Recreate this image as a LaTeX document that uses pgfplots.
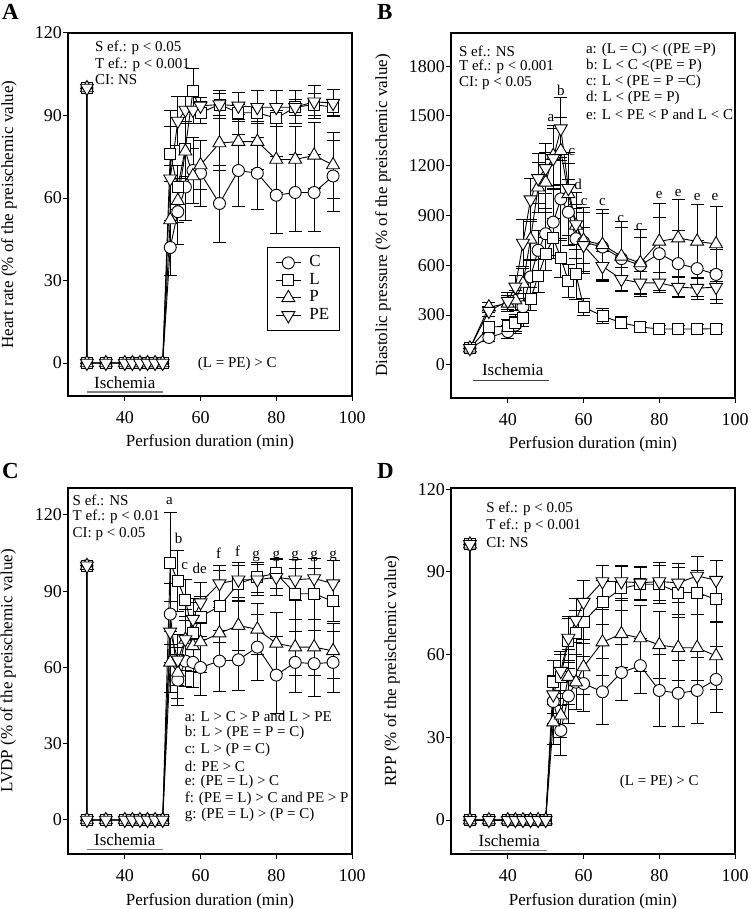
\documentclass[border=0pt]{standalone}
\usepackage{fontspec}
\setmainfont{Liberation Serif}
\usepackage{pgfplots}
\pgfplotsset{compat=1.18}
\newcommand{\fA}{\fontsize{15}{16}\selectfont}
\newcommand{\fL}{\fontsize{17}{19}\selectfont}
\newcommand{\fT}{\fontsize{18}{20}\selectfont}
\pgfplotsset{
 panel/.style={
  scale only axis, width=284pt,
  xmin=25, xmax=100, xtick={40,60,80,100},
  tick align=outside, xtick pos=left, ytick pos=left,
  major tick length=5pt,
  every tick/.style={black, line width=1pt},
  axis line style={line width=1.2pt},
  tick label style={font=\fT},
  /pgf/number format/assume math mode=true,
  /pgf/number format/1000 sep={},
  scaled y ticks=false,
  label style={font=\fL},
  xlabel={Perfusion duration (min)},
  clip=false,
  xlabel style={at={(axis description cs:0.5,-0.128)}, anchor=center},
  yticklabel style={inner xsep=1pt},
  xticklabel style={yshift=-7pt},
 },
 base/.style={black, line width=0.9pt,
  error bars/y dir=both, error bars/y explicit,
  error bars/error bar style={line width=0.9pt, black, solid},
  error bars/error mark options={rotate=90, mark size=6.5pt, line width=0.9pt, black}},
 sC/.style={base, mark=*, mark size=6pt, mark options={fill=white, draw=black, line width=0.9pt}},
 sL/.style={base, mark=square*, mark size=5.5pt, mark options={fill=white, draw=black, line width=0.9pt}},
 sP/.style={base, mark=triangle*, mark size=7.5pt, mark options={fill=white, draw=black, line width=0.9pt}},
 sPE/.style={base, mark=triangle*, mark size=7.5pt, mark options={fill=white, draw=black, line width=0.9pt, rotate=180}},
}
\begin{document}
\begin{tikzpicture}[x=1pt,y=1pt]
\useasboundingbox (0,0) rectangle (750,-909);
\node[anchor=base west, inner sep=0, font=\bfseries\fontsize{23}{25}\selectfont] at (2,-20) {A};
\node[anchor=base west, inner sep=0, font=\bfseries\fontsize{23}{25}\selectfont] at (377,-20) {B};
\node[anchor=base west, inner sep=0, font=\bfseries\fontsize{23}{25}\selectfont] at (2,-478) {C};
\node[anchor=base west, inner sep=0, font=\bfseries\fontsize{23}{25}\selectfont] at (377,-478) {D};

% ---------------- A ----------------
\begin{axis}[panel, at={(68pt,-396pt)}, anchor=south west, height=363pt,
  ymin=-12, ymax=120, ytick={0,30,60,90,120},
  ylabel={Heart rate (\% of the preischemic value)},
  ylabel style={at={(axis description cs:-0.208,0.5)}, anchor=center},
  legend style={at={(axis description cs:0.7007,0.4105)}, anchor=north west, draw=black, line width=0.8pt, fill=white, inner xsep=8pt, inner ysep=8pt, row sep=2.5pt, column sep=6pt, font=\fL, cells={anchor=west}, nodes={inner ysep=0.5pt, text height=11pt, text depth=3pt}},
  legend image code/.code={\draw[mark repeat=2,mark phase=2,#1] plot coordinates {(0pt,0pt) (12.5pt,0pt) (25pt,0pt)};}]
\addplot[sC] coordinates {(30,100) +- (0,0) (30,0) +- (0,0) (35,0) +- (0,0) (40,0) +- (0,0) (42,0) +- (0,0) (44,0) +- (0,0) (46,0) +- (0,0) (48,0) +- (0,0) (50,0) +- (0,0) (52,42) +- (0,10) (54,55) +- (0,12) (56,64) +- (0,12) (58,70) +- (0,12) (60,69) +- (0,12) (65,58) +- (0,14) (70,70) +- (0,13) (75,69) +- (0,13) (80,61) +- (0,14) (85,62) +- (0,14) (90,62) +- (0,14) (95,68) +- (0,13)};
\addlegendentry{C}
\addplot[sL] coordinates {(30,100) +- (0,0) (30,0) +- (0,0) (35,0) +- (0,0) (40,0) +- (0,0) (42,0) +- (0,0) (44,0) +- (0,0) (46,0) +- (0,0) (48,0) +- (0,0) (50,0) +- (0,0) (52,76) +- (0,10) (54,64) +- (0,8) (56,78) +- (0,10) (58,99) +- (0,8) (60,91) +- (0,4) (65,94) +- (0,4) (70,91) +- (0,3) (75,91) +- (0,3) (80,89) +- (0,3) (85,93) +- (0,3) (90,94) +- (0,4) (95,93) +- (0,3)};
\addlegendentry{L}
\addplot[sP] coordinates {(30,100) +- (0,0) (30,0) +- (0,0) (35,0) +- (0,0) (40,0) +- (0,0) (42,0) +- (0,0) (44,0) +- (0,0) (46,0) +- (0,0) (48,0) +- (0,0) (50,0) +- (0,0) (52,52) +- (0,20) (54,59) +- (0,8) (56,77) +- (0,10) (58,68) +- (0,10) (60,72) +- (0,9) (65,80) +- (0,10) (70,80.5) +- (0,10) (75,80.5) +- (0,10) (80,74) +- (0,12) (85,74) +- (0,12) (90,75.5) +- (0,12) (95,72) +- (0,12)};
\addlegendentry{P}
\addplot[sPE] coordinates {(30,100) +- (0,0) (30,0) +- (0,0) (35,0) +- (0,0) (40,0) +- (0,0) (42,0) +- (0,0) (44,0) +- (0,0) (46,0) +- (0,0) (48,0) +- (0,0) (50,0) +- (0,0) (52,67) +- (0,25) (54,88) +- (0,9) (56,92) +- (0,5) (58,92) +- (0,5) (60,93.5) +- (0,3) (65,94) +- (0,5) (70,93.5) +- (0,5) (75,93) +- (0,6) (80,93) +- (0,6) (85,93) +- (0,6) (90,95) +- (0,6) (95,94.5) +- (0,5)};
\addlegendentry{PE}
\node[anchor=west, inner sep=0, font=\fA] at (axis cs:32.1,114.6) {S ef.: p < 0.05};
\node[anchor=west, inner sep=0, font=\fA] at (axis cs:32.1,108.6) {T ef.: p < 0.001};
\node[anchor=west, inner sep=0, font=\fA] at (axis cs:32.1,102.9) {CI: NS};
\node[inner sep=0, font=\fA] at (axis cs:69.7,-0.5) {(L = PE) > C};
\draw[gray, line width=1.3pt] (axis cs:30,-10.5) -- (axis cs:50,-10.5);
\node[inner sep=0, font=\fL] at (axis cs:40,-7) {Ischemia};
\end{axis}

% ---------------- B ----------------
\begin{axis}[panel, at={(451pt,-398pt)}, anchor=south west, height=365pt,
  ymin=-200, ymax=2000, ytick={0,300,600,900,1200,1500,1800},
  ylabel={Diastolic pressure (\% of the preischemic value)},
  ylabel style={at={(axis description cs:-0.24,0.5)}, anchor=center}]
\addplot[sC] coordinates {(30,100) +- (0,0) (35,165) +- (0,25) (40,200) +- (0,40) (42,240) +- (0,50) (44,350) +- (0,80) (46,530) +- (0,100) (48,690) +- (0,120) (50,790) +- (0,150) (52,860) +- (0,200) (54,1000) +- (0,250) (56,920) +- (0,200) (58,760) +- (0,180) (60,740) +- (0,180) (65,710) +- (0,200) (70,640) +- (0,190) (75,600) +- (0,170) (80,670) +- (0,220) (85,610) +- (0,200) (90,580) +- (0,170) (95,545) +- (0,150)};
\addplot[sL] coordinates {(30,100) +- (0,0) (35,228) +- (0,30) (40,232) +- (0,40) (42,254) +- (0,50) (44,284) +- (0,50) (46,396) +- (0,70) (48,534) +- (0,100) (50,666) +- (0,100) (52,764) +- (0,120) (54,644) +- (0,120) (56,504) +- (0,100) (58,546) +- (0,150) (60,348) +- (0,50) (65,294) +- (0,45) (70,254) +- (0,35) (75,228) +- (0,30) (80,216) +- (0,20) (85,216) +- (0,20) (90,216) +- (0,25) (95,218) +- (0,25)};
\addplot[sP] coordinates {(30,100) +- (0,0) (35,348) +- (0,30) (40,370) +- (0,50) (42,390) +- (0,60) (44,490) +- (0,90) (46,756) +- (0,120) (48,1070) +- (0,150) (50,1100) +- (0,180) (52,1260) +- (0,180) (54,1290) +- (0,200) (56,1030) +- (0,250) (58,840) +- (0,200) (60,750) +- (0,200) (65,724) +- (0,210) (70,654) +- (0,210) (75,614) +- (0,200) (80,744) +- (0,230) (85,764) +- (0,230) (90,744) +- (0,225) (95,728) +- (0,225)};
\addplot[sPE] coordinates {(30,100) +- (0,0) (35,324) +- (0,30) (40,384) +- (0,50) (42,470) +- (0,70) (44,734) +- (0,140) (46,996) +- (0,130) (48,1124) +- (0,150) (50,1184) +- (0,150) (52,1244) +- (0,180) (54,1424) +- (0,190) (56,1064) +- (0,150) (58,846) +- (0,120) (60,720) +- (0,110) (65,594) +- (0,90) (70,516) +- (0,70) (75,494) +- (0,70) (80,494) +- (0,60) (85,468) +- (0,60) (90,462) +- (0,66) (95,468) +- (0,100)};
\node[anchor=west, inner sep=0, font=\fA] at (axis cs:27.1,1888) {S ef.: NS};
\node[anchor=west, inner sep=0, font=\fA] at (axis cs:27.1,1794) {T ef.: p < 0.001};
\node[anchor=west, inner sep=0, font=\fA] at (axis cs:27.1,1698) {CI: p < 0.05};
\node[anchor=west, inner sep=0, font=\fA] at (axis cs:60.6,1898) {a: (L = C) < ((PE =P)};
\node[anchor=west, inner sep=0, font=\fA] at (axis cs:60.6,1802) {b: L < C <(PE = P)};
\node[anchor=west, inner sep=0, font=\fA] at (axis cs:60.6,1704) {c: L < (PE = P =C)};
\node[anchor=west, inner sep=0, font=\fA] at (axis cs:60.6,1606) {d: L < (PE = P)};
\node[anchor=west, inner sep=0, font=\fA] at (axis cs:60.6,1508) {e: L < PE < P and L < C};
\node[anchor=base, inner sep=0, font=\fA] at (axis cs:51.4,1464) {a};
\node[anchor=base, inner sep=0, font=\fA] at (axis cs:54,1624) {b};
\node[anchor=base, inner sep=0, font=\fA] at (axis cs:56.9,1260) {c};
\node[anchor=base, inner sep=0, font=\fA] at (axis cs:58.6,1054) {d};
\node[anchor=base, inner sep=0, font=\fA] at (axis cs:60.2,960) {c};
\node[anchor=base, inner sep=0, font=\fA] at (axis cs:65,960) {c};
\node[anchor=base, inner sep=0, font=\fA] at (axis cs:69.8,860) {c};
\node[anchor=base, inner sep=0, font=\fA] at (axis cs:74.7,808) {c};
\node[anchor=base, inner sep=0, font=\fA] at (axis cs:80,1004) {e};
\node[anchor=base, inner sep=0, font=\fA] at (axis cs:85,1014) {e};
\node[anchor=base, inner sep=0, font=\fA] at (axis cs:90,990) {e};
\node[anchor=base, inner sep=0, font=\fA] at (axis cs:94.7,990) {e};
\draw[black!75, line width=1.2pt] (axis cs:30.8,-96) -- (axis cs:51,-96);
\node[inner sep=0, font=\fL] at (axis cs:41.3,-30) {Ischemia};
\end{axis}

% ---------------- C ----------------
\begin{axis}[panel, at={(68pt,-854pt)}, anchor=south west, height=366pt,
  ymin=-13.4, ymax=130.6, ytick={0,30,60,90,120},
  ylabel={LVDP (\% of the preischemic value)},
  ylabel style={at={(axis description cs:-0.211,0.5)}, anchor=center}]
\addplot[sC] coordinates {(30,100) +- (0,0) (30,0) +- (0,0) (35,0) +- (0,0) (40,0) +- (0,0) (42,0) +- (0,0) (44,0) +- (0,0) (46,0) +- (0,0) (48,0) +- (0,0) (50,0) +- (0,0) (52,81) +- (0,12) (54,55) +- (0,10) (56,62.5) +- (0,10) (58,62) +- (0,10) (60,60) +- (0,11) (65,62.5) +- (0,12) (70,63) +- (0,12) (75,68) +- (0,13) (80,57) +- (0,15) (85,62) +- (0,12) (90,61.5) +- (0,13) (95,62) +- (0,12)};
\addplot[sL] coordinates {(30,100) +- (0,0) (30,0) +- (0,0) (35,0) +- (0,0) (40,0) +- (0,0) (42,0) +- (0,0) (44,0) +- (0,0) (46,0) +- (0,0) (48,0) +- (0,0) (50,0) +- (0,0) (52,101) +- (0,20) (54,94) +- (0,12) (56,86.5) +- (0,8) (58,73.5) +- (0,12) (60,80) +- (0,8) (65,84) +- (0,14) (70,93) +- (0,7) (75,95.5) +- (0,6) (80,97) +- (0,6) (85,89) +- (0,10) (90,89) +- (0,10) (95,86) +- (0,8)};
\addplot[sP] coordinates {(30,100) +- (0,0) (30,0) +- (0,0) (35,0) +- (0,0) (40,0) +- (0,0) (42,0) +- (0,0) (44,0) +- (0,0) (46,0) +- (0,0) (48,0) +- (0,0) (50,0) +- (0,0) (52,62) +- (0,12) (54,58) +- (0,10) (56,71) +- (0,12) (58,68.5) +- (0,10) (60,70) +- (0,12) (65,73.5) +- (0,10) (70,76.5) +- (0,10) (75,75) +- (0,10) (80,69.5) +- (0,12) (85,68) +- (0,11) (90,68) +- (0,11) (95,66.5) +- (0,11)};
\addplot[sPE] coordinates {(30,100) +- (0,0) (30,0) +- (0,0) (35,0) +- (0,0) (40,0) +- (0,0) (42,0) +- (0,0) (44,0) +- (0,0) (46,0) +- (0,0) (48,0) +- (0,0) (50,0) +- (0,0) (52,74) +- (0,12) (54,63) +- (0,10) (56,71) +- (0,9) (58,79) +- (0,8) (60,85.5) +- (0,8) (65,93) +- (0,7) (70,94.5) +- (0,7) (75,94.5) +- (0,6) (80,95.5) +- (0,7) (85,94.5) +- (0,8) (90,95) +- (0,8) (95,93) +- (0,9)};
\node[anchor=west, inner sep=0, font=\fA] at (axis cs:26.2,125.7) {S ef.: NS};
\node[anchor=west, inner sep=0, font=\fA] at (axis cs:26.2,119.1) {T ef.: p < 0.01};
\node[anchor=west, inner sep=0, font=\fA] at (axis cs:26.2,112.5) {CI: p < 0.05};
\node[anchor=base, inner sep=0, font=\fA] at (axis cs:51.8,124) {a};
\node[anchor=base, inner sep=0, font=\fA] at (axis cs:54.2,108.6) {b};
\node[anchor=base, inner sep=0, font=\fA] at (axis cs:55.8,98.5) {c};
\node[anchor=base, inner sep=0, font=\fA] at (axis cs:58.9,96.8) {d};
\node[anchor=base, inner sep=0, font=\fA] at (axis cs:60.8,96.8) {e};
\node[anchor=base, inner sep=0, font=\fA] at (axis cs:64.8,103) {f};
\node[anchor=base, inner sep=0, font=\fA] at (axis cs:69.8,103.5) {f};
\node[anchor=base, inner sep=0, font=\fA] at (axis cs:74.7,103) {g};
\node[anchor=base, inner sep=0, font=\fA] at (axis cs:80,103) {g};
\node[anchor=base, inner sep=0, font=\fA] at (axis cs:85,103) {g};
\node[anchor=base, inner sep=0, font=\fA] at (axis cs:90,103) {g};
\node[anchor=base, inner sep=0, font=\fA] at (axis cs:95,103) {g};
\node[anchor=west, inner sep=0, font=\fA] at (axis cs:55.8,40.8) {a: L > C > P and L > PE};
\node[anchor=west, inner sep=0, font=\fA] at (axis cs:55.8,34.2) {b: L > (PE = P = C)};
\node[anchor=west, inner sep=0, font=\fA] at (axis cs:55.8,27.4) {c: L > (P = C)};
\node[anchor=west, inner sep=0, font=\fA] at (axis cs:55.8,21) {d: PE > C};
\node[anchor=west, inner sep=0, font=\fA] at (axis cs:55.8,14.8) {e: (PE = L) > C};
\node[anchor=west, inner sep=0, font=\fA] at (axis cs:55.8,8.4) {f: (PE = L) > C and PE > P};
\node[anchor=west, inner sep=0, font=\fA] at (axis cs:55.8,2) {g: (PE = L) > (P = C)};
\draw[gray, line width=1.3pt] (axis cs:30,-11.5) -- (axis cs:50,-11.5);
\node[inner sep=0, font=\fL] at (axis cs:40,-7.6) {Ischemia};
\end{axis}

% ---------------- D ----------------
\begin{axis}[panel, at={(451pt,-854pt)}, anchor=south west, height=366pt,
  ymin=-12.3, ymax=120.4, ytick={0,30,60,90,120},
  ylabel={RPP (\% of the preischemic value)},
  ylabel style={at={(axis description cs:-0.208,0.5)}, anchor=center}]
\addplot[sC] coordinates {(30,100) +- (0,0) (30,0) +- (0,0) (35,0) +- (0,0) (40,0) +- (0,0) (42,0) +- (0,0) (44,0) +- (0,0) (46,0) +- (0,0) (48,0) +- (0,0) (50,0) +- (0,0) (52,43) +- (0,8) (54,32.5) +- (0,9) (56,45) +- (0,10) (58,50) +- (0,10) (60,49.5) +- (0,10) (65,46.5) +- (0,12) (70,53.5) +- (0,10) (75,56) +- (0,10) (80,47) +- (0,13) (85,46) +- (0,12) (90,47) +- (0,12) (95,51) +- (0,12)};
\addplot[sL] coordinates {(30,100) +- (0,0) (30,0) +- (0,0) (35,0) +- (0,0) (40,0) +- (0,0) (42,0) +- (0,0) (44,0) +- (0,0) (46,0) +- (0,0) (48,0) +- (0,0) (50,0) +- (0,0) (52,50) +- (0,8) (54,52) +- (0,8) (56,65) +- (0,8) (58,68) +- (0,8) (60,72) +- (0,8) (65,79) +- (0,8) (70,84) +- (0,8) (75,85.5) +- (0,6) (80,85.5) +- (0,7) (85,82.5) +- (0,9) (90,82.5) +- (0,8) (95,80) +- (0,8)};
\addplot[sP] coordinates {(30,100) +- (0,0) (30,0) +- (0,0) (35,0) +- (0,0) (40,0) +- (0,0) (42,0) +- (0,0) (44,0) +- (0,0) (46,0) +- (0,0) (48,0) +- (0,0) (50,0) +- (0,0) (52,35.5) +- (0,8) (54,38) +- (0,8) (56,52) +- (0,10) (58,50) +- (0,10) (60,55.5) +- (0,10) (65,64.5) +- (0,12) (70,67.5) +- (0,12) (75,66) +- (0,12) (80,63.5) +- (0,12) (85,62.5) +- (0,12) (90,62.5) +- (0,12) (95,59.5) +- (0,12)};
\addplot[sPE] coordinates {(30,100) +- (0,0) (30,0) +- (0,0) (35,0) +- (0,0) (40,0) +- (0,0) (42,0) +- (0,0) (44,0) +- (0,0) (46,0) +- (0,0) (48,0) +- (0,0) (50,0) +- (0,0) (52,45.5) +- (0,7) (54,54) +- (0,7) (56,66) +- (0,8) (58,72.5) +- (0,8) (60,79) +- (0,8) (65,86.5) +- (0,6) (70,86.5) +- (0,6) (75,86) +- (0,6) (80,86.5) +- (0,7) (85,86) +- (0,7) (90,88.5) +- (0,7) (95,87) +- (0,7)};
\node[anchor=west, inner sep=0, font=\fA] at (axis cs:34.3,112.7) {S ef.: p < 0.05};
\node[anchor=west, inner sep=0, font=\fA] at (axis cs:34.3,106.6) {T ef.: p < 0.001};
\node[anchor=west, inner sep=0, font=\fA] at (axis cs:34.3,100.6) {CI: NS};
\node[inner sep=0, font=\fA] at (axis cs:80,13.8) {(L = PE) > C};
\draw[gray, line width=1.3pt] (axis cs:30.1,-11.1) -- (axis cs:50.3,-11.1);
\node[inner sep=0, font=\fL] at (axis cs:40.4,-7.3) {Ischemia};
\end{axis}
\end{tikzpicture}
\end{document}
